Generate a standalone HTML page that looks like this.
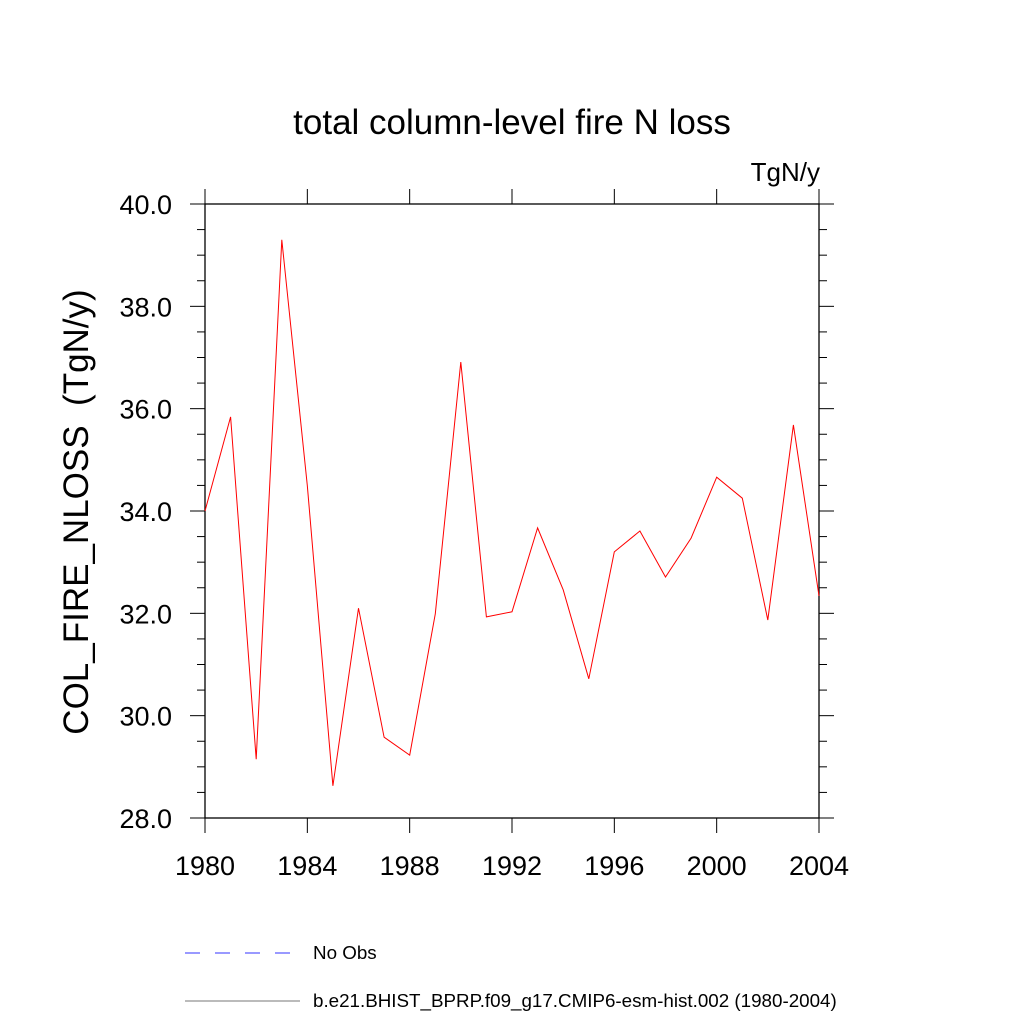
<!DOCTYPE html>
<html><head><meta charset="utf-8"><style>
body{margin:0;background:#fff;}
svg text{font-family:"Liberation Sans",sans-serif;fill:#000;}
</style></head><body>
<svg id="chart" width="1024" height="1024" xmlns="http://www.w3.org/2000/svg">
<text x="512" y="134" font-size="35" text-anchor="middle">total column-level fire N loss</text>
<text x="820" y="181" font-size="26" text-anchor="end">TgN/y</text>
<text transform="translate(88,512) rotate(-90)" font-size="35" text-anchor="middle" style="white-space:pre">COL_FIRE_NLOSS  (TgN/y)</text>
<g id="axes"></g>
<g id="series"></g>
<g>
<line x1="185" y1="953" x2="292" y2="953" stroke="#3333ff" stroke-width="1" stroke-dasharray="15,15"/>
<text x="313" y="959" font-size="18.8">No Obs</text>
<line x1="185" y1="1001" x2="300" y2="1001" stroke="#777" stroke-width="1"/>
<text x="313" y="1007" font-size="18.8">b.e21.BHIST_BPRP.f09_g17.CMIP6-esm-hist.002 (1980-2004)</text>
</g>
</svg>
<script>
const years=[1980,1981,1982,1983,1984,1985,1986,1987,1988,1989,1990,1991,1992,1993,1994,1995,1996,1997,1998,1999,2000,2001,2002,2003,2004];
const values=[34.0,35.84,29.15,39.3,34.5,28.63,32.1,29.58,29.23,31.99,36.91,31.93,32.03,33.67,32.46,30.72,33.2,33.61,32.71,33.47,34.66,34.25,31.87,35.68,32.34];
const yTicks=[28,30,32,34,36,38,40];
const yTickLabels=["28.0","30.0","32.0","34.0","36.0","38.0","40.0"];
const xTicks=[1980,1984,1988,1992,1996,2000,2004];
const NS="http://www.w3.org/2000/svg";
const L=205,R=819,T=204,B=818;
const xS=v=>L+(v-1980)/(2004-1980)*(R-L);
const yS=v=>B-(v-28)/(40-28)*(B-T);
function mk(tag,attrs,parent){const e=document.createElementNS(NS,tag);for(const k in attrs)e.setAttribute(k,attrs[k]);parent.appendChild(e);return e;}
const ax=document.getElementById('axes');
const frame=mk('rect',{x:L,y:T,width:R-L,height:B-T,fill:'none',stroke:'#000','stroke-width':1.3},ax);


for(let v=28;v<=40.001;v+=0.5){
  const y=yS(v);const major=Math.abs(v-Math.round(v/2)*2)<1e-6;const len=major?15:8;
  const t1=mk('line',{x1:L-len,y1:y,x2:L,y2:y,stroke:'#000','stroke-width':1},ax);
  
  
  const t2=mk('line',{x1:R,y1:y,x2:R+len,y2:y,stroke:'#000','stroke-width':1},ax);
  
  
}
yTicks.forEach((v,i)=>{
  const t=mk('text',{x:172,y:yS(v)+10,'font-size':27,'text-anchor':'end'},ax);t.textContent=yTickLabels[i];
  
  
});
xTicks.forEach(v=>{
  const x=xS(v);
  const a=mk('line',{x1:x,y1:T-15,x2:x,y2:T,stroke:'#000','stroke-width':1},ax);
  
  
  const b=mk('line',{x1:x,y1:B,x2:x,y2:B+15,stroke:'#000','stroke-width':1},ax);
  
  
  const t=mk('text',{x:x,y:875,'font-size':27,'text-anchor':'middle'},ax);t.textContent=v;
  
  
});
const pts=years.map((yr,i)=>xS(yr).toFixed(1)+','+yS(values[i]).toFixed(1)).join(' ');
const line=mk('polyline',{points:pts,fill:'none',stroke:'#ff0000','stroke-width':1},document.getElementById('series'));


</script>
</body></html>
